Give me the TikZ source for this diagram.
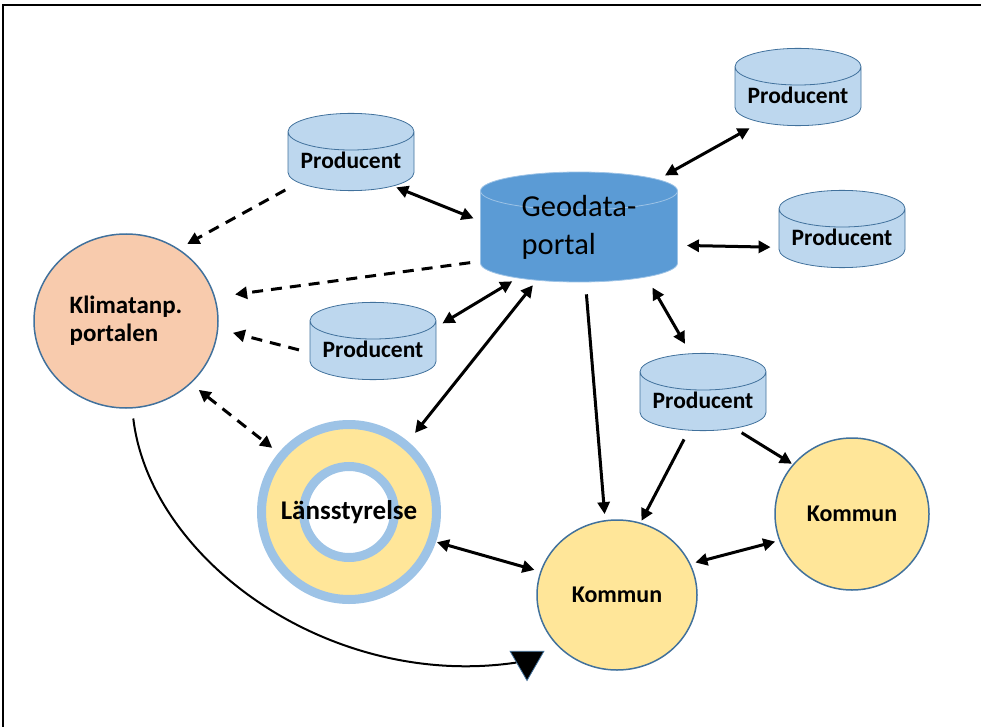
\documentclass[tikz,border=0pt]{standalone}
\usepackage{fontspec}
\setmainfont{Carlito}
\usepackage{tikz}
\usetikzlibrary{arrows.meta,shapes.geometric,positioning}
\definecolor{prodblue}{HTML}{BDD7EE}
\definecolor{geoblue}{HTML}{5B9BD5}
\definecolor{edgeblue}{HTML}{41719C}
\definecolor{ringblue}{HTML}{9DC3E6}
\definecolor{klimfill}{HTML}{F8CBAD}
\definecolor{kommfill}{HTML}{FFE699}
\tikzset{every node/.append style={transform shape=false}}
\tikzset{prod/.style={cylinder, shape border rotate=90, aspect=0.35, draw=edgeblue, line width=0.8pt,
    fill=prodblue, minimum width=126, minimum height=77, inner sep=2pt, text depth=6pt,
    anchor=shape center, font=\bfseries\fontsize{23.5}{25}\selectfont}}
\tikzset{geo/.style={cylinder, shape border rotate=90, aspect=0.33, draw=geoblue!60!white, line width=0.8pt,
    fill=geoblue, minimum width=197, minimum height=110, inner sep=0pt, align=left,
    text height=40pt, text depth=4pt,
    anchor=shape center, font=\fontsize{30.5}{38}\selectfont}}
\tikzset{kommun/.style={ellipse, draw=edgeblue, line width=1.5pt, fill=kommfill,
    font=\bfseries\fontsize{24}{26}\selectfont}}
\tikzset{link/.style={line width=3pt, -{Triangle[length=12pt,width=12pt]}}}
\tikzset{dlink/.style={link, {Triangle[length=12pt,width=12pt]}-{Triangle[length=12pt,width=12pt]}}}
\tikzset{dashlink/.style={dash pattern=on 11pt off 8pt}}

\begin{document}
\begin{tikzpicture}[x=1pt,y=-1pt]
\useasboundingbox (0,0) rectangle (981,727);
\draw[line width=2pt] (3,727) -- (3,5) -- (981,5);

% nodes
\node[geo] (geo) at (579,227) {Geodata-\\portal};
\node[prod] (p1) at (351,152) {Producent};
\node[prod] (p2) at (798,87) {Producent};
\node[prod] (p3) at (842,229) {Producent};
\node[prod] (p4) at (373,341) {Producent};
\node[prod] (p5) at (703,392) {Producent};
\node[ellipse, draw=edgeblue, line width=1.5pt, fill=klimfill, minimum width=184, minimum height=174,
  align=left, font=\bfseries\fontsize{25}{28}\selectfont] (klim) at (126,321) {Klimatanp.\\portalen};
\node[circle, draw=ringblue, line width=9pt, fill=kommfill, minimum size=175,
  font=\bfseries\fontsize{27}{28}\selectfont,
  path picture={\draw[ringblue, line width=9pt, fill=white] (path picture bounding box.center) circle[radius=45.5];}]
  (lan) at (349,512) {Länsstyrelse};
\node[kommun, minimum width=160, minimum height=150] (kb) at (617,595) {Kommun};
\node[kommun, minimum width=154, minimum height=152] (kr) at (852,514) {Kommun};
\node[regular polygon, regular polygon sides=3, shape border rotate=180, fill=black, draw=edgeblue,
  line width=0.8pt, minimum size=39, inner sep=0pt] (tri) at (527,661) {};

% connectors
\draw[link, dashlink, shorten <=15pt, shorten >=10pt] (p1.200) -- (klim.54);
\draw[dlink, shorten <=3pt, shorten >=7pt] (p1.-28) -- (geo.171);
\draw[link, dashlink, shorten <=10pt, shorten >=20pt] (geo.194) -- (klim.15);
\draw[link, dashlink, shorten <=11pt, shorten >=15pt] (p4.west) -- (klim.-5);
\draw[dlink, shorten <=7pt, shorten >=6pt] (p4.22) -- (geo.214);
\draw[dlink, dashlink, shorten <=10pt, shorten >=8pt] (klim.-44) -- (lan.140);
\draw[dlink, shorten <=11pt, shorten >=6pt] (lan.50) -- (geo.226);
\draw[dlink, shorten <=8pt, shorten >=12pt] (geo.36) -- (p2.212);
\draw[dlink, shorten <=9pt, shorten >=8pt] (geo.-5) -- (p3.186);
\draw[dlink, shorten <=12pt, shorten >=11pt] (geo.-31) -- (p5.104);
\draw[link, shorten <=12pt, shorten >=6pt] (geo.-82) -- (kb.99);
\draw[link, shorten <=10pt, shorten >=2pt] (p5.-118) -- (kb.72);
\draw[link, shorten <=8pt, shorten >=1pt] (p5.-38) -- (kr.140);
\draw[dlink, shorten <=1pt, shorten >=6pt] (lan.-19) -- (kb.163);
\draw[dlink, shorten <=5pt, shorten >=4pt] (kb.23) -- (kr.200);
\draw[line width=2pt, shorten <=10pt] (klim.-86) .. controls (150,560) and (330,690) .. (tri);
\end{tikzpicture}
\end{document}
